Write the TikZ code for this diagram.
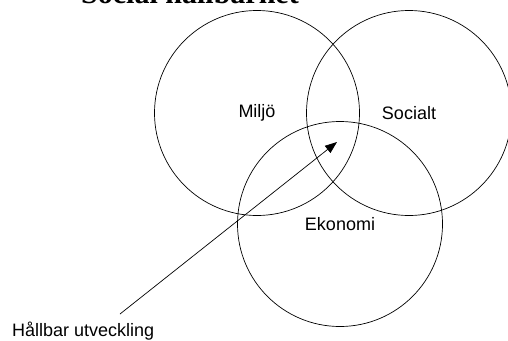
\documentclass[tikz,border=0pt]{standalone}
\usepackage{fontspec}
\setmainfont{Liberation Sans}
\newfontfamily\titlefont{Liberation Serif}
\usetikzlibrary{arrows.meta, positioning}

\begin{document}
\begin{tikzpicture}[
        x=1pt, y=-1pt,
        ring/.style={circle, draw, line width=0.7pt, minimum size=205pt, inner sep=0pt,
            font=\fontsize{18}{20}\selectfont},
        every node/.style={font=\fontsize{18}{20}\selectfont}
    ]
        \useasboundingbox (0,0) rectangle (508,340);

        % titel, avskuren upptill
        \node[anchor=base, inner sep=0pt, font=\titlefont\bfseries\fontsize{30}{32}\selectfont]
            (titel) at (190,4) {Social hållbarhet};

        \node[ring] (miljo) at (257,113) {Miljö};
        \node[ring] (socialt) at (409,113) {Socialt};
        \node[ring] (ekonomi) at (340,224) {Ekonomi};

        \node[anchor=base west, inner sep=0pt] (hallbar) at (12,336) {Hållbar utveckling};
        \coordinate (start) at (120,314);
        \coordinate (mitt) at (337,142);
        \draw[line width=0.7pt, -{Triangle[length=12pt, width=9pt]}] (start) -- (mitt);
    \end{tikzpicture}
\end{document}
